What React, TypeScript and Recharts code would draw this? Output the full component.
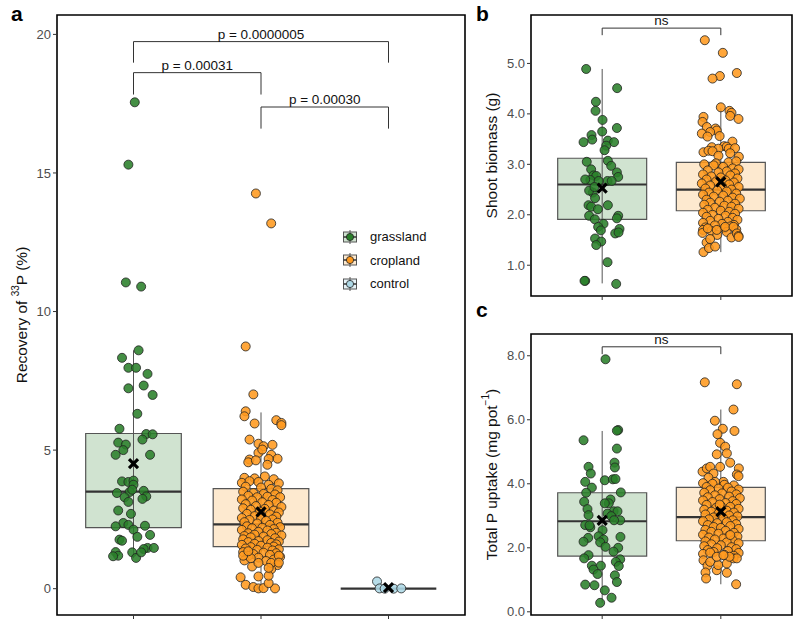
import React from 'react';
import {
  ScatterChart, Scatter, XAxis, YAxis, ReferenceArea, ReferenceLine, ReferenceDot,
} from 'recharts';

// groups
const GROUPS = ['grassland', 'cropland', 'control'];
const POINT_FILL = ['#2a7f2a', '#ff9a1f', '#add8e6'];
const BOX_FILL = ['#d0e3d0', '#fde9cf', '#e6f3f8'];

// panel a: recovery of 33P (%), [jitter, value]
const recGrass: [number, number][] = [
  [0.01, 17.55], [-0.04, 15.3], [-0.06, 11.05], [0.06, 10.9],
  [0.04, 8.6], [-0.09, 8.33], [-0.04, 7.97], [0.02, 7.97], [0.11, 7.75], [-0.04, 7.23],
  [0.08, 7.33], [0.15, 6.99], [0.03, 6.31], [-0.11, 5.77], [0.1, 5.58], [0.15, 5.57],
  [0.07, 5.38], [-0.12, 5.27], [-0.06, 5.2], [-0.08, 5.0], [-0.14, 4.83], [0.13, 4.83],
  [-0.09, 3.87], [-0.04, 3.85], [0.0, 3.9], [0.0, 3.75], [-0.13, 3.45], [-0.03, 3.49],
  [0.08, 3.53], [-0.07, 3.3], [-0.04, 3.13], [0.1, 3.33], [0.07, 3.24], [-0.01, 3.57],
  [-0.12, 2.82], [-0.02, 2.7], [-0.08, 2.37], [-0.04, 2.3], [-0.14, 2.25], [0.09, 2.27],
  [0.0, 2.13], [0.13, 1.94], [-0.11, 1.77], [-0.09, 1.73], [0.03, 1.87], [0.11, 1.47],
  [0.16, 1.47], [0.08, 1.43], [-0.14, 1.32], [-0.12, 1.19], [-0.16, 1.17], [-0.01, 1.31],
  [0.02, 1.11], [0.06, 1.31],
];
const recCrop: [number, number][] = [
  [-0.04, 14.26], [0.08, 13.18], [-0.12, 8.74], [-0.06, 7.01],
  [-0.12, 6.4], [-0.13, 6.22], [-0.05, 5.96], [0.12, 6.08], [0.16, 5.98], [0.16, 5.9],
  [-0.09, 5.38], [-0.02, 5.23], [0.02, 5.14], [0.09, 5.19], [-0.02, 4.9], [0.08, 4.83],
  [0.13, 4.69], [0.06, 4.68], [-0.09, 4.66], [-0.1, 4.56], [-0.04, 4.63], [0.05, 4.47],
  [0.01, 5.02],
  [-0.13, 4.0], [-0.05, 3.98], [0.03, 4.05], [0.1, 3.95], [0.14, 3.8], [-0.15, 3.82],
  [-0.09, 3.88], [-0.02, 3.85], [0.06, 3.75], [-0.12, 3.68], [0.0, 3.65], [0.08, 3.6],
  [0.13, 3.55], [-0.14, 3.5], [-0.06, 3.45], [0.02, 3.42], [0.11, 3.4], [-0.1, 3.35],
  [0.05, 3.32], [-0.03, 3.3], [0.15, 3.3], [-0.15, 3.22], [0.09, 3.2], [-0.07, 3.18],
  [0.01, 3.12], [0.12, 3.1], [-0.12, 3.05], [0.06, 3.02], [-0.04, 2.98], [0.16, 2.95],
  [-0.14, 2.9], [0.03, 2.88], [-0.08, 2.85], [0.1, 2.82], [-0.01, 2.78], [0.14, 2.75],
  [-0.11, 2.7], [0.07, 2.68], [-0.05, 2.62], [0.12, 2.6], [-0.15, 2.55], [0.0, 2.55],
  [0.09, 2.5], [-0.09, 2.48], [0.04, 2.45], [-0.13, 2.4], [0.13, 2.38], [-0.03, 2.35],
  [0.07, 2.3], [-0.11, 2.25], [0.15, 2.22], [0.01, 2.2], [-0.07, 2.18], [0.1, 2.15],
  [-0.15, 2.12], [0.05, 2.1], [-0.02, 2.05], [0.12, 2.02], [-0.1, 2.0], [0.08, 1.97],
  [-0.05, 1.95], [0.16, 1.92], [-0.13, 1.9], [0.02, 1.88], [-0.08, 1.85], [0.11, 1.82],
  [-0.14, 1.78], [0.05, 1.75], [-0.02, 1.72], [0.14, 1.7], [-0.1, 1.68], [0.08, 1.65],
  [-0.05, 1.62], [0.12, 1.6], [-0.15, 1.58], [0.0, 1.55], [0.1, 1.52], [-0.08, 1.5],
  [0.05, 1.48], [-0.12, 1.45], [0.14, 1.42], [-0.03, 1.4], [0.09, 1.38], [-0.14, 1.32],
  [0.02, 1.3], [0.12, 1.28], [-0.06, 1.25], [0.07, 1.22], [-0.1, 1.18], [0.15, 1.15],
  [-0.02, 1.12], [0.1, 1.05], [-0.13, 1.02], [0.04, 1.0], [0.13, 0.85], [-0.07, 0.8],
  [0.08, 0.7],
  [-0.16, 0.41], [-0.12, 0.14], [-0.06, 0.06], [-0.02, 0.01], [0.02, 0.02], [0.11, 0.01],
  [0.06, 0.2], [-0.02, 0.44], [0.06, 0.47], [0.08, 0.93], [-0.02, 0.93], [-0.08, 1.1],
  [0.14, 1.19], [0.14, 0.94], [0.06, 0.75], [-0.14, 1.19], [-0.1, 1.35],
];
const recCtrl: [number, number][] = [
  [-0.09, 0.26], [-0.07, 0.01], [-0.03, 0.0], [0.04, 0.0], [0.1, 0.01],
];
// [lower whisker, Q1, median, Q3, upper whisker]
const recBox = [[1.1, 2.2, 3.5, 5.6, 8.6], [0.0, 1.52, 2.32, 3.61, 6.36], [0, 0, 0, 0, 0]];
const recMean = [4.51, 2.77, 0.04];

// panel b: shoot biomass (g)
const shootGrass: [number, number][] = [
  [-0.135, 4.89], [0.126, 4.51], [-0.053, 4.24], [-0.056, 4.06], [0.003, 3.88], [0.0, 3.65],
  [0.124, 3.72], [-0.09, 3.58], [-0.084, 3.49], [-0.157, 3.44], [0.048, 3.47], [0.1, 3.44],
  [0.034, 3.37], [0.02, 3.28], [-0.13, 3.05], [0.048, 3.07], [-0.093, 2.9], [0.076, 2.97],
  [-0.073, 2.78], [-0.05, 2.77], [0.124, 2.84], [0.135, 2.75], [-0.1, 2.69], [-0.143, 2.7],
  [0.045, 2.67], [0.08, 2.67], [-0.03, 2.67], [-0.079, 2.44], [-0.11, 2.48], [-0.065, 2.55],
  [-0.06, 2.33], [-0.115, 2.19], [-0.093, 2.16], [-0.036, 2.11], [0.048, 2.19], [-0.11, 1.98],
  [-0.062, 1.91], [0.135, 1.98], [0.124, 1.93], [0.011, 1.82], [-0.034, 1.76], [-0.011, 1.69],
  [0.146, 1.72], [0.11, 1.63], [0.138, 1.65], [-0.06, 1.53], [-0.008, 1.47], [-0.05, 1.4],
  [0.045, 1.06], [-0.143, 0.69], [-0.149, 0.69], [0.118, 0.63],
];
const shootCrop: [number, number][] = [
  [-0.135, 5.46], [0.017, 5.21], [0.135, 4.81], [-0.008, 4.75], [-0.07, 4.7], [0.0, 4.13],
  [0.073, 4.06], [0.09, 4.02], [0.079, 3.96], [0.149, 3.9], [-0.146, 3.94], [-0.154, 3.84],
  [-0.118, 3.74], [-0.045, 3.71], [-0.034, 3.67], [-0.09, 3.64], [-0.16, 3.61], [-0.01, 3.56],
  [-0.112, 3.55], [0.098, 3.45], [0.028, 3.36], [-0.076, 3.34], [-0.02, 3.31], [0.05, 3.35],
  [0.067, 3.31], [0.12, 3.32], [-0.146, 3.24], [-0.104, 3.27], [-0.07, 3.26], [0.079, 3.22],
  [0.152, 3.15], [-0.02, 3.17], [-0.042, 3.02], [0.065, 3.04], [0.13, 3.06],
  [-0.14, 3.0], [-0.06, 2.98], [0.02, 2.95], [0.1, 2.92], [0.15, 2.9], [-0.11, 2.88],
  [0.05, 2.86], [-0.02, 2.84], [0.12, 2.82], [-0.15, 2.8], [0.08, 2.78], [-0.08, 2.76],
  [0.0, 2.74], [0.14, 2.72], [-0.12, 2.7], [0.04, 2.68], [-0.04, 2.66], [0.11, 2.64],
  [-0.16, 2.62], [0.07, 2.6], [-0.09, 2.58], [0.01, 2.56], [0.15, 2.55], [-0.13, 2.52],
  [0.09, 2.5], [-0.03, 2.48], [0.05, 2.46], [-0.1, 2.44], [0.13, 2.42], [-0.15, 2.4],
  [0.02, 2.38], [-0.06, 2.36], [0.1, 2.34], [0.16, 2.32], [-0.12, 2.3], [0.06, 2.28],
  [-0.01, 2.26], [-0.09, 2.24], [0.12, 2.22], [-0.14, 2.2], [0.03, 2.18], [0.09, 2.16],
  [-0.05, 2.14], [0.15, 2.12], [-0.11, 2.1], [0.0, 2.08], [0.07, 2.06], [-0.15, 2.04],
  [0.12, 2.02], [-0.07, 2.0], [0.04, 1.98], [-0.12, 1.96], [0.1, 1.94], [-0.02, 1.92],
  [0.14, 1.9], [-0.09, 1.88], [0.06, 1.86], [-0.15, 1.84], [0.01, 1.82], [0.11, 1.8],
  [-0.05, 1.79], [0.08, 1.77], [-0.13, 1.75], [0.03, 1.73], [0.13, 1.71], [-0.08, 1.68],
  [0.05, 1.66], [-0.03, 1.6], [0.09, 1.55], [-0.12, 1.45],
  [-0.146, 1.26], [-0.1, 1.34], [-0.048, 1.37], [-0.09, 1.52], [-0.15, 1.7], [-0.154, 1.64],
  [-0.11, 1.73], [-0.034, 1.7], [0.037, 1.76], [0.107, 1.76], [0.135, 1.63], [0.149, 1.58],
  [0.15, 1.56],
];
const shootBox = [[0.64, 1.91, 2.6, 3.12, 4.89], [1.26, 2.08, 2.5, 3.04, 4.12]];
const shootMean = [2.53, 2.65];

// panel c: total P uptake (mg pot-1)
const uptakeGrass: [number, number][] = [
  [0.028, 7.89], [-0.157, 5.36], [0.135, 5.68], [0.124, 5.66], [0.124, 5.1], [0.104, 4.66],
  [0.107, 4.51], [-0.115, 4.53], [-0.096, 4.32], [-0.143, 4.06], [-0.087, 3.88], [0.022, 4.11],
  [0.09, 4.14], [0.112, 4.15], [0.157, 3.73], [-0.135, 3.72], [-0.152, 3.44], [0.07, 3.51],
  [0.056, 3.39], [0.022, 3.39], [-0.124, 3.21], [0.096, 3.14], [0.129, 3.14], [0.045, 3.07],
  [0.076, 2.99], [-0.115, 3.02], [-0.143, 2.71], [-0.1, 2.64], [-0.107, 2.7], [0.003, 2.55],
  [0.152, 2.86], [0.1, 2.86], [-0.03, 2.36], [0.154, 2.34], [-0.118, 2.31], [-0.157, 2.19],
  [0.011, 2.26], [-0.017, 2.17], [0.028, 2.03], [0.135, 2.0], [0.096, 1.88], [-0.115, 1.77],
  [-0.152, 1.67], [0.152, 1.64], [0.115, 1.56], [0.14, 1.43], [-0.087, 1.44], [-0.011, 1.44],
  [-0.073, 1.32], [-0.039, 1.18], [0.107, 1.14], [0.124, 0.93], [-0.143, 0.85], [-0.065, 0.83],
  [0.022, 0.67], [0.079, 0.44], [-0.017, 0.28],
];
const uptakeCrop: [number, number][] = [
  [-0.135, 7.17], [0.135, 7.11], [0.107, 6.32], [-0.05, 5.97], [0.017, 5.72], [-0.028, 5.55],
  [0.115, 5.65], [-0.006, 5.28], [0.037, 5.16], [-0.034, 4.92], [0.051, 4.95], [-0.154, 4.38],
  [-0.118, 4.48], [-0.09, 4.53], [-0.006, 4.53], [0.079, 4.66], [0.152, 4.48], [0.135, 4.29],
  [0.149, 4.24], [-0.062, 4.32], [-0.104, 4.19], [0.022, 4.06], [-0.048, 4.06],
  [-0.15, 4.02], [-0.07, 4.0], [0.03, 3.97], [0.11, 3.95], [-0.12, 3.9], [0.06, 3.88],
  [-0.02, 3.85], [0.15, 3.82], [-0.09, 3.8], [0.09, 3.76], [-0.14, 3.72], [0.01, 3.7],
  [0.13, 3.67], [-0.05, 3.64], [0.07, 3.6], [-0.11, 3.58], [0.16, 3.55], [-0.01, 3.52],
  [-0.15, 3.48], [0.1, 3.46], [-0.07, 3.43], [0.04, 3.4], [0.13, 3.37], [-0.12, 3.34],
  [0.0, 3.31], [0.08, 3.28], [-0.04, 3.25], [0.15, 3.22], [-0.14, 3.19], [0.05, 3.16],
  [-0.08, 3.13], [0.11, 3.1], [-0.02, 3.07], [-0.13, 3.04], [0.07, 3.01], [0.14, 2.98],
  [-0.06, 2.95], [0.02, 2.92], [-0.1, 2.89], [0.1, 2.86], [-0.15, 2.83], [0.05, 2.8],
  [-0.03, 2.77], [0.13, 2.74], [-0.11, 2.71], [0.08, 2.68], [-0.06, 2.65], [0.0, 2.62],
  [0.15, 2.59], [-0.13, 2.56], [0.04, 2.53], [-0.08, 2.5], [0.11, 2.47], [-0.02, 2.44],
  [-0.15, 2.41], [0.07, 2.38], [0.14, 2.35], [-0.1, 2.32], [0.02, 2.29], [-0.05, 2.26],
  [0.1, 2.23], [-0.13, 2.2], [0.05, 2.17], [0.15, 2.14], [-0.08, 2.11], [0.0, 2.08],
  [-0.14, 2.05], [0.09, 2.02], [-0.03, 1.99], [0.13, 1.96], [-0.11, 1.93], [0.06, 1.9],
  [-0.06, 1.87], [0.15, 1.84], [-0.15, 1.81], [0.03, 1.78], [0.11, 1.75], [-0.09, 1.85],
  [0.08, 2.4], [-0.01, 3.35],
  [-0.146, 1.61], [-0.112, 1.44], [-0.09, 1.56], [-0.129, 1.23], [-0.124, 1.04], [-0.034, 1.3],
  [0.051, 1.22], [0.129, 0.86], [-0.022, 1.46], [0.051, 1.51], [0.107, 1.67], [0.135, 1.67],
  [0.073, 1.72], [-0.034, 1.72], [0.022, 1.77],
];
const uptakeBox = [[0.28, 1.74, 2.83, 3.72, 5.65], [0.86, 2.22, 2.96, 3.89, 6.32]];
const uptakeMean = [2.86, 3.13];

const FONT = '"Liberation Sans", Arial, Helvetica, sans-serif';
const HALF = 0.375;

type Bracket = { x1: number; x2: number; y: number; drop: number; text: string };

const recBrackets: Bracket[] = [
  { x1: 1, x2: 3, y: 19.74, drop: 18.98, text: 'p = 0.0000005' },
  { x1: 1, x2: 2, y: 18.62, drop: 17.83, text: 'p = 0.00031' },
  { x1: 2, x2: 3, y: 17.38, drop: 16.6, text: 'p = 0.00030' },
];
const shootBrackets: Bracket[] = [{ x1: 1, x2: 2, y: 5.7, drop: 5.56, text: 'ns' }];
const uptakeBrackets: Bracket[] = [{ x1: 1, x2: 2, y: 8.28, drop: 8.05, text: 'ns' }];

const toPts = (pos: number, arr: [number, number][]) => arr.map(([j, v]) => ({ x: pos + j, y: v }));

const dotShape = (fill: string) => (props: any) => (
  <circle cx={props.cx} cy={props.cy} r={4.5} fill={fill} fillOpacity={0.88} stroke="#222" strokeWidth={0.8} />
);

const meanShape = (props: any) => {
  const { cx, cy } = props;
  const s = 4.5;
  return (
    <g stroke="#000" strokeWidth={3.2} strokeLinecap="butt">
      <line x1={cx - s} y1={cy - s} x2={cx + s} y2={cy + s} />
      <line x1={cx - s} y1={cy + s} x2={cx + s} y2={cy - s} />
    </g>
  );
};

type PanelProps = {
  left: number; top: number; width: number; height: number;
  margin: { top: number; right: number; bottom: number; left: number };
  yWidth: number; xHeight: number;
  xDomain: [number, number]; yDomain: [number, number]; yTicks: number[];
  fmt: (v: number) => string;
  points: [number, number][][];
  boxes: number[][]; means: number[];
  brackets: Bracket[];
  label: React.ReactNode;
};

const Panel = (p: PanelProps) => {
  const [x0, x1] = p.xDomain;
  const [y0, y1] = p.yDomain;
  return (
    <div style={{ position: 'absolute', left: p.left, top: p.top }}>
      <ScatterChart width={p.width} height={p.height} margin={p.margin}>
        <XAxis type="number" dataKey="x" domain={p.xDomain} allowDataOverflow
          ticks={p.boxes.map((_, i) => i + 1)} tickFormatter={() => ''} height={p.xHeight}
          axisLine={false} tickSize={4} tickLine={{ stroke: '#333' }} />
        <YAxis type="number" dataKey="y" domain={p.yDomain} allowDataOverflow ticks={p.yTicks}
          tickFormatter={p.fmt} width={p.yWidth} axisLine={false} tickSize={4}
          tickLine={{ stroke: '#333' }} tick={{ fill: '#4d4d4d', fontSize: 13, fontFamily: FONT }}
          label={{ content: (lp: any) => {
            const vb = lp.viewBox || { x: 0, y: 0, width: 0, height: 0 };
            const cx = vb.x + 21;
            const cy = vb.y + vb.height / 2;
            return (
              <text x={cx} y={cy} transform={`rotate(-90 ${cx} ${cy})`} textAnchor="middle"
                dominantBaseline="central" fontSize={15.5} fontFamily={FONT} fill="#111">
                {p.label}
              </text>
            );
          } }} />
        {p.boxes.map((b, i) => {
          const c = i + 1;
          return (
            <React.Fragment key={`box-${i}`}>
              {b[3] > b[1] && (
                <ReferenceArea x1={c - HALF} x2={c + HALF} y1={b[1]} y2={b[3]} fill={BOX_FILL[i]}
                  fillOpacity={1} stroke="#555" strokeWidth={1.2} />
              )}
              {b[4] > b[0] && (
                <ReferenceLine segment={[{ x: c, y: b[0] }, { x: c, y: b[4] }]} stroke="#555" strokeWidth={1} />
              )}
              <ReferenceLine segment={[{ x: c - HALF, y: b[2] }, { x: c + HALF, y: b[2] }]}
                stroke="#333" strokeWidth={2.2} />
            </React.Fragment>
          );
        })}
        {p.brackets.map((br, i) => (
          <React.Fragment key={`br-${i}`}>
            <ReferenceLine segment={[{ x: br.x1, y: br.y }, { x: br.x2, y: br.y }]} stroke="#333" strokeWidth={1} />
            <ReferenceLine segment={[{ x: br.x1, y: br.drop }, { x: br.x1, y: br.y }]} stroke="#333" strokeWidth={1} />
            <ReferenceLine segment={[{ x: br.x2, y: br.drop }, { x: br.x2, y: br.y }]} stroke="#333" strokeWidth={1} />
            <ReferenceDot x={(br.x1 + br.x2) / 2} y={br.y} r={0} fill="none" stroke="none"
              label={{ value: br.text, position: 'top', offset: 3, fontSize: 13.5, fontFamily: FONT, fill: '#111' }} />
          </React.Fragment>
        ))}
        {p.points.map((pts, i) => (
          <Scatter key={`pts-${i}`} name={GROUPS[i]} data={toPts(i + 1, pts)} shape={dotShape(POINT_FILL[i])}
            isAnimationActive={false} />
        ))}
        <Scatter name="mean" data={p.means.map((m, i) => ({ x: i + 1, y: m }))} shape={meanShape}
          isAnimationActive={false} />
        <ReferenceArea x1={x0} x2={x1} y1={y0} y2={y1} fill="none" stroke="#000" strokeWidth={1.6} />
      </ScatterChart>
    </div>
  );
};

const LegendBox = () => (
  <div style={{ position: 'absolute', left: 342, top: 225, fontFamily: FONT, fontSize: 13, color: '#111' }}>
    {GROUPS.map((g, i) => (
      <div key={g} style={{ display: 'flex', alignItems: 'center', height: 23.5 }}>
        <svg width={16} height={14} style={{ marginRight: 12 }}>
          <rect x={1.5} y={2} width={13} height={10} fill={BOX_FILL[i]} stroke="#555" strokeWidth={1} />
          <line x1={8} y1={0} x2={8} y2={14} stroke="#555" strokeWidth={1} />
          <line x1={1.5} y1={7} x2={14.5} y2={7} stroke="#333" strokeWidth={1.5} />
          <circle cx={8} cy={7} r={3.6} fill={POINT_FILL[i]} stroke="#222" strokeWidth={0.8} />
        </svg>
        <span>{g}</span>
      </div>
    ))}
  </div>
);

const panelTag = (t: string, left: number, top: number) => (
  <div style={{ position: 'absolute', left, top, fontFamily: FONT, fontWeight: 'bold', fontSize: 21, color: '#000' }}>{t}</div>
);

export default function App() {
  return (
    <div style={{ position: 'absolute', left: 0, top: 0, width: 800, height: 628, background: '#fff' }}>
      {panelTag('a', 11, 2)}
      {panelTag('b', 476, 2)}
      {panelTag('c', 476, 298)}
      <Panel left={0} top={0} width={470} height={628}
        margin={{ top: 15, right: 5, bottom: 0, left: 0 }} yWidth={57} xHeight={13}
        xDomain={[0.4, 3.6]} yDomain={[-0.95, 20.7]} yTicks={[0, 5, 10, 15, 20]}
        fmt={(v) => String(v)}
        points={[recGrass, recCrop, recCtrl]} boxes={recBox} means={recMean} brackets={recBrackets}
        label={<>Recovery of <tspan baselineShift="super" fontSize={10}>33</tspan><tspan>P (%)</tspan></>} />
      <LegendBox />
      <Panel left={470} top={0} width={330} height={300}
        margin={{ top: 15, right: 8, bottom: 0, left: 0 }} yWidth={61} xHeight={4}
        xDomain={[0.4, 2.6]} yDomain={[0.39, 5.96]} yTicks={[1, 2, 3, 4, 5]}
        fmt={(v) => v.toFixed(1)}
        points={[shootGrass, shootCrop]} boxes={shootBox} means={shootMean} brackets={shootBrackets}
        label={<>Shoot biomass (g)</>} />
      <Panel left={470} top={300} width={330} height={328}
        margin={{ top: 34, right: 8, bottom: 0, left: 0 }} yWidth={61} xHeight={13}
        xDomain={[0.4, 2.6]} yDomain={[-0.1, 8.68]} yTicks={[0, 2, 4, 6, 8]}
        fmt={(v) => v.toFixed(1)}
        points={[uptakeGrass, uptakeCrop]} boxes={uptakeBox} means={uptakeMean} brackets={uptakeBrackets}
        label={<>Total P uptake (mg pot<tspan baselineShift="super" fontSize={10}>−1</tspan><tspan>)</tspan></>} />
    </div>
  );
}
